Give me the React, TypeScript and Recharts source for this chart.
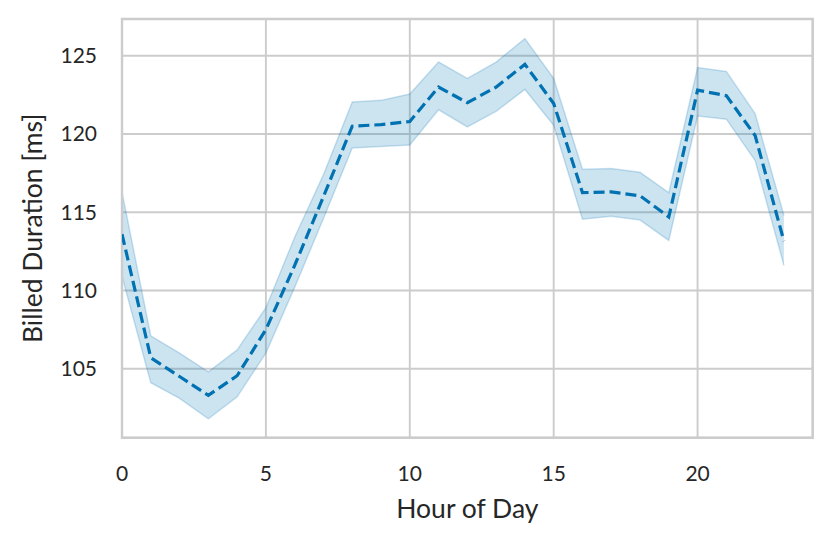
import React from 'react';
import {
  ComposedChart,
  Area,
  Line,
  XAxis,
  YAxis,
  CartesianGrid,
  ReferenceArea,
} from 'recharts';

const hours = [0, 1, 2, 3, 4, 5, 6, 7, 8, 9, 10, 11, 12, 13, 14, 15, 16, 17, 18, 19, 20, 21, 22, 23];
const meanMs = [113.6, 105.7, 104.5, 103.3, 104.55, 107.5, 111.6, 116.0, 120.5, 120.6, 120.8, 123.0, 122.0, 123.0, 124.45, 121.95, 116.25, 116.3, 116.05, 114.7, 122.8, 122.45, 119.9, 113.15];
const upperMs = [116.3, 107.1, 106.0, 104.8, 106.2, 108.9, 113.4, 117.4, 122.05, 122.15, 122.55, 124.6, 123.55, 124.6, 126.1, 123.55, 117.75, 117.8, 117.55, 116.25, 124.25, 124.0, 121.3, 114.8];
const lowerMs = [110.9, 104.1, 103.1, 101.8, 103.2, 106.0, 110.2, 114.6, 119.1, 119.2, 119.3, 121.55, 120.45, 121.45, 122.85, 120.55, 114.55, 114.75, 114.5, 113.2, 121.15, 120.95, 118.3, 111.6];

const xTicks = [0, 5, 10, 15, 20];
const yTicks = [105, 110, 115, 120, 125];
const xDomain = [0, 24];
const yDomain = [100.59, 127.35];

const data = hours.map((h, i) => ({
  hour: h,
  mean: meanMs[i],
  band: [lowerMs[i], upperMs[i]],
}));

const FONT = 'Lato, sans-serif';
const WEIGHT = 400;
const TEXT = '#262626';
const GRID = '#cccccc';
const BLUE = '#0072B2';

const YLabel = (props: any) => {
  const vb = props.viewBox || {};
  const x = (vb.x || 0) + 42;
  const y = (vb.y || 0) + (vb.height || 0) / 2;
  return (
    <text
      x={x}
      y={y}
      transform={`rotate(-90, ${x}, ${y})`}
      textAnchor="middle"
      fill={TEXT}
      fontFamily={FONT}
      fontWeight={WEIGHT}
      fontSize={26.5}
    >
      Billed Duration [ms]
    </text>
  );
};

export default function App() {
  return (
    <div style={{ position: 'absolute', left: 0, top: 0, width: 831, height: 544, background: '#fff' }}>
      <ComposedChart
        width={831}
        height={544}
        data={data}
        margin={{ top: 19, right: 18.3, bottom: 0, left: 0 }}
      >
        <CartesianGrid stroke={GRID} strokeWidth={1.9} />
        <XAxis
          dataKey="hour"
          type="number"
          domain={xDomain}
          ticks={xTicks}
          allowDataOverflow
          axisLine={false}
          tickLine={false}
          tickSize={0}
          tickMargin={28}
          height={106.3}
          tick={{ fill: TEXT, fontFamily: FONT, fontWeight: WEIGHT, fontSize: 21 }}
          label={{
            value: 'Hour of Day',
            position: 'insideBottom',
            offset: 26,
            fill: TEXT,
            fontFamily: FONT,
            fontWeight: WEIGHT,
            fontSize: 26.5,
          }}
        />
        <YAxis
          type="number"
          domain={yDomain}
          ticks={yTicks}
          allowDataOverflow
          axisLine={false}
          tickLine={false}
          tickSize={0}
          tickMargin={25}
          width={122}
          tick={{ fill: TEXT, fontFamily: FONT, fontWeight: WEIGHT, fontSize: 21 }}
          label={<YLabel />}
        />
        <Area
          dataKey="band"
          type="linear"
          fill={BLUE}
          fillOpacity={0.2}
          stroke={BLUE}
          strokeOpacity={0.2}
          strokeWidth={1.5}
          isAnimationActive={false}
          dot={false}
          activeDot={false}
        />
        <Line
          dataKey="mean"
          type="linear"
          stroke={BLUE}
          strokeWidth={3.2}
          strokeDasharray="11 5"
          dot={false}
          activeDot={false}
          isAnimationActive={false}
        />
        <ReferenceArea
          x1={xDomain[0]}
          x2={xDomain[1]}
          y1={yDomain[0]}
          y2={yDomain[1]}
          fill="none"
          stroke={GRID}
          strokeWidth={2.4}
          ifOverflow="visible"
        />
      </ComposedChart>
    </div>
  );
}
